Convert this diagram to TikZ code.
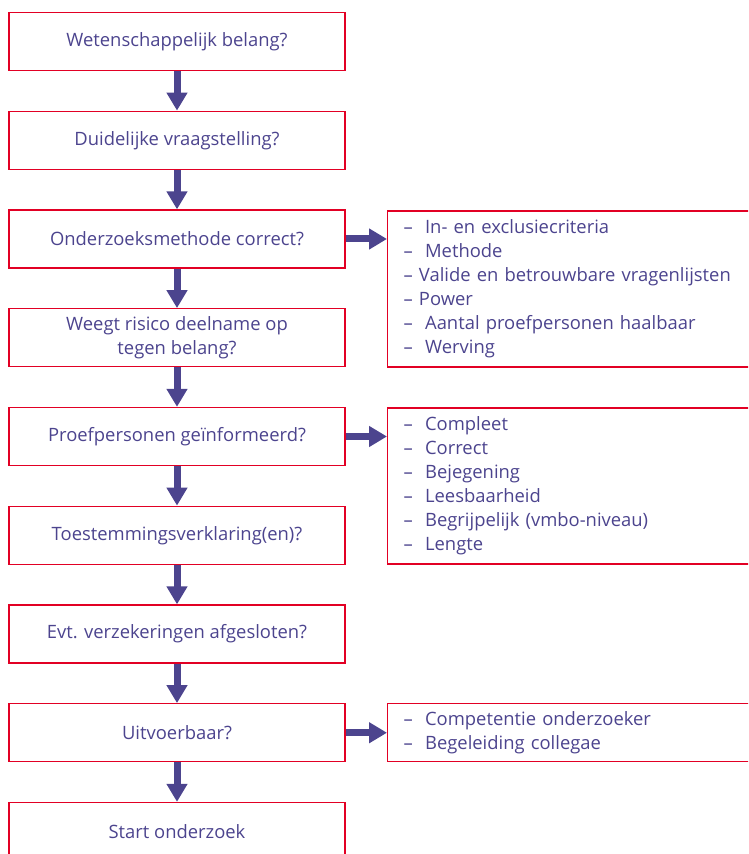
\documentclass[tikz,border=0pt]{standalone}
\usepackage{fontspec}
\setmainfont{Open Sans}
\usetikzlibrary{arrows.meta}
\definecolor{rood}{RGB}{226,0,36}
\definecolor{paars}{RGB}{76,68,142}
\begin{document}
\begin{tikzpicture}[x=1pt,y=1pt,font=\fontsize{18.4}{24}\selectfont,
	vraag/.style={draw=rood,line width=1.3pt,text=paars,minimum width=336pt,minimum height=58pt,align=center,inner sep=0pt},
	lijst/.style={draw=rood,line width=1.3pt,text=paars,anchor=west,text width=360pt,inner xsep=16pt,inner ysep=0pt,align=left},
	pijl/.style={paars,line width=7pt,-{Triangle[width=20pt,length=18pt]}}]
	\path[use as bounding box,clip] (0,0) rectangle (748,854);
	\node[vraag] (B1) at (177,812.5) {Wetenschappelijk belang?};
	\node[vraag] (B2) at (177,713.75) {Duidelijke vraagstelling?};
	\node[vraag] (B3) at (177,615) {Onderzoeksmethode correct?};
	\node[vraag] (B4) at (177,516.25) {Weegt risico deelname op\\tegen belang?};
	\node[vraag] (B5) at (177,417.5) {Proefpersonen geïnformeerd?};
	\node[vraag] (B6) at (177,318.75) {Toestemmingsverklaring(en)?};
	\node[vraag] (B7) at (177,220) {Evt. verzekeringen afgesloten?};
	\node[vraag] (B8) at (177,121.25) {Uitvoerbaar?};
	\node[vraag] (B9) at (177,22.5) {Start onderzoek};
	\node[lijst,minimum height=156pt] (L1) at (387,565) {–~~In- en exclusiecriteria\\–~~Methode\\– Valide en betrouwbare vragenlijsten\\– Power\\–~~Aantal proefpersonen haalbaar\\–~~Werving};
	\node[lijst,minimum height=156pt] (L2) at (387,368) {–~~Compleet\\–~~Correct\\–~~Bejegening\\–~~Leesbaarheid\\–~~Begrijpelijk (vmbo-niveau)\\–~~Lengte};
	\node[lijst,minimum height=58pt] (L3) at (387,121.25) {–~~Competentie onderzoeker\\–~~Begeleiding collegae};
	\foreach \i/\j in {B1/B2,B2/B3,B3/B4,B4/B5,B5/B6,B6/B7,B7/B8,B8/B9}{\draw[pijl] (\i.south) -- (\j.north);}
	\foreach \i/\j in {B3/L1,B5/L2,B8/L3}{\draw[pijl] (\i.east) -- (\i.east -| \j.west);}
\end{tikzpicture}
\end{document}
